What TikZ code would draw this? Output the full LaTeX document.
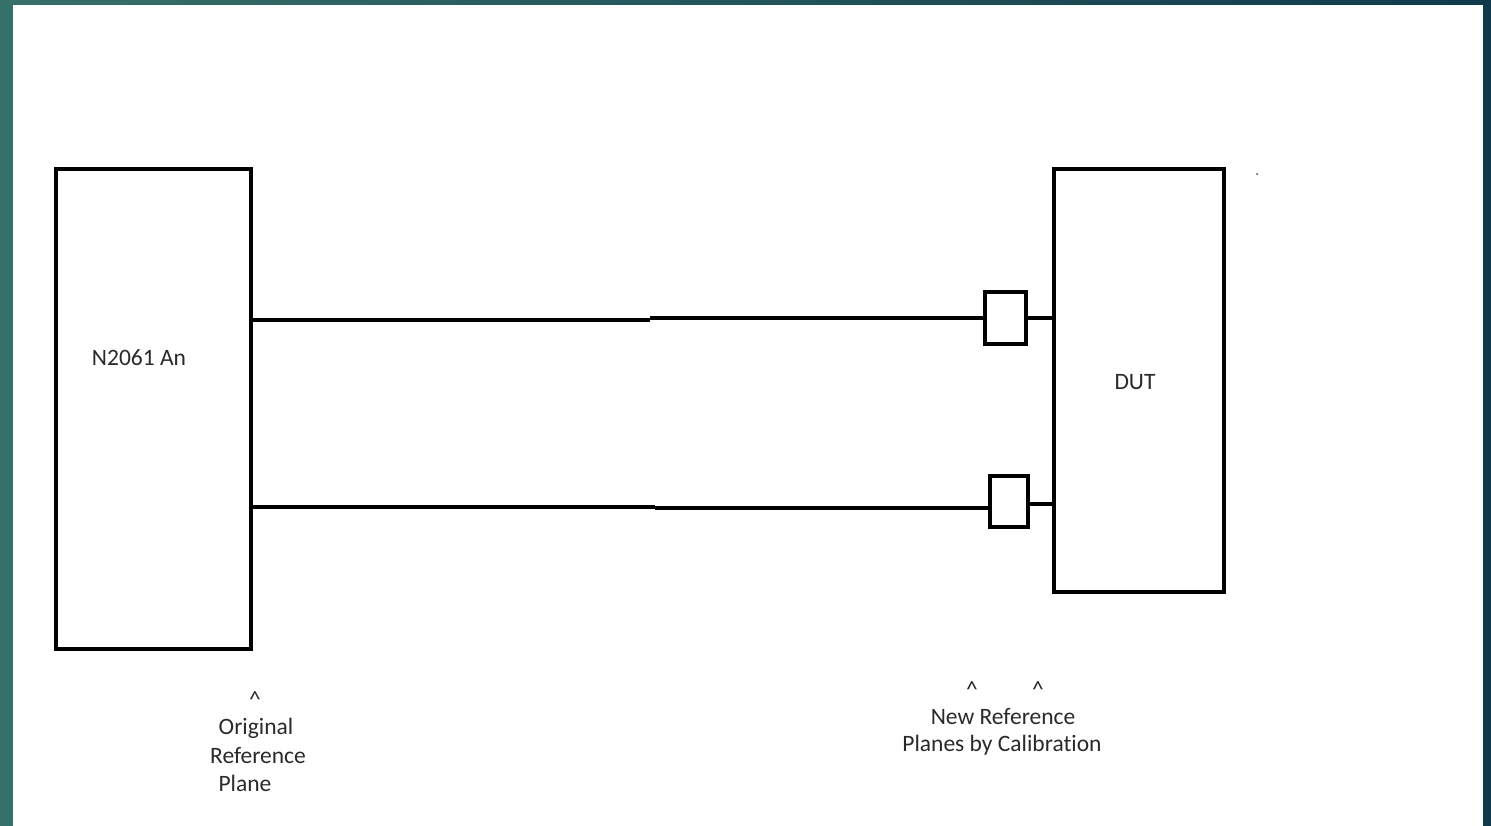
\documentclass[tikz,border=0pt]{standalone}
\usepackage{fontspec}
\setmainfont[Ligatures=NoCommon]{Carlito}
\definecolor{teal1}{HTML}{36706A}
\definecolor{teal2}{HTML}{0F3A4C}
\definecolor{txt}{HTML}{2A2A2A}
\begin{document}
\begin{tikzpicture}[x=1pt,y=-1pt,
  box/.style={draw=black,line width=4pt,inner sep=0pt,fill=none},
  wire/.style={draw=black,line width=4pt},
  lbl/.style={text=txt,font=\fontsize{23.5}{28}\selectfont,inner sep=0pt}]
\useasboundingbox (0,0) rectangle (1491,826);
\fill[white] (0,0) rectangle (1491,826);
% frame strips
\fill[teal1] (0,0) rectangle (13,826);
\shade[left color=teal1,right color=teal2] (0,0) rectangle (1491,5);
\fill[teal2] (1483,0) rectangle (1491,826);
% boxes
\node[box,minimum width=195pt,minimum height=480pt] (nwa) at (153.5,409) {};
\node[box,minimum width=170pt,minimum height=423pt] (dut) at (1139,380.5) {};
\node[box,minimum width=41pt,minimum height=52pt] (c1) at (1005.5,318) {};
\node[box,minimum width=38pt,minimum height=51pt] (c2) at (1009,501.5) {};
% step points
\coordinate (s1) at (650,320);
\coordinate (s1r) at (650,318);
\coordinate (s2) at (655,507);
\coordinate (s2r) at (655,508);
\coordinate (d2) at (1028,504);
% wires
\draw[wire] (nwa.east |- s1) -- (s1);
\draw[wire] (s1r) -- (c1.west);
\draw[wire] (c1.east) -- (dut.west |- c1.east);
\draw[wire] (nwa.east |- s2) -- (s2);
\draw[wire] (s2r) -- (c2.west |- s2r);
\draw[wire] (d2) -- (dut.west |- d2);
% texts
\node[lbl] (t1) at (139,358) {N2061 An};
\node[lbl] (t2) at (1135,382) {DUT};
\node[lbl] (h1) at (255,700) {\^{}};
\node[lbl] (o1) at (256,728) {Original};
\node[lbl] (o2) at (258,756) {Reference};
\node[lbl] (o3) at (245,783) {Plane};
\node[lbl] (h2) at (972,690) {\^{}};
\node[lbl] (h3) at (1038,690) {\^{}};
\node[lbl] (n1) at (1003,717) {New Reference};
\node[lbl] (n2) at (1002,745) {Planes by Calibration};
\fill[black!70] (1257,174) circle (1pt);
\end{tikzpicture}
\end{document}
